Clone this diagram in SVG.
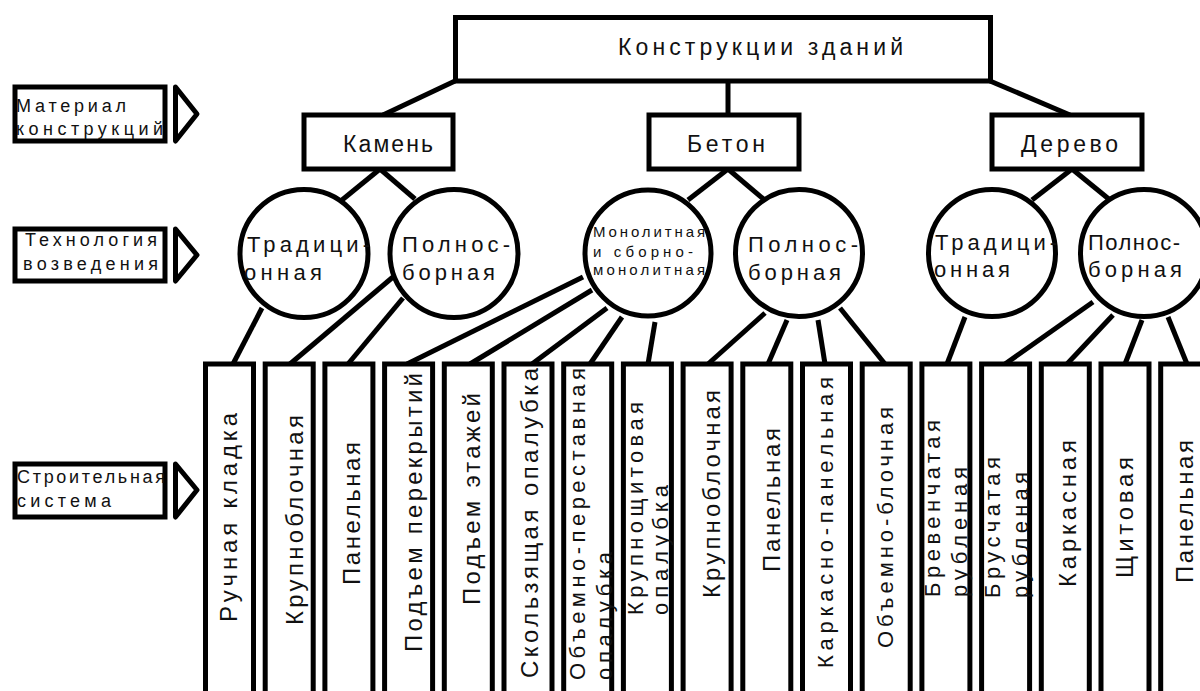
<svg xmlns="http://www.w3.org/2000/svg" width="1200" height="691" viewBox="0 0 1200 691">
<style>
.b{fill:#fff;stroke:#000;stroke-width:5}
.c{fill:#fff;stroke:#000;stroke-width:5}
.t{fill:none;stroke:#000;stroke-width:5;stroke-linejoin:round}
.ln{stroke:#000;stroke-width:5;fill:none}
text{font-family:"Liberation Sans","DejaVu Sans",sans-serif;fill:#111;lengthAdjust:spacing}
.f23{font-size:23px}
.f18{font-size:18px}
.f22{font-size:22px}
.f15{font-size:15px}
.f24{font-size:24px}
</style>
<rect width="1200" height="691" fill="#fff"/>
<g id="connectors">
<line class="ln" x1="455" y1="81" x2="383" y2="115"/>
<line class="ln" x1="728" y1="81" x2="728" y2="115"/>
<line class="ln" x1="990" y1="81" x2="1070" y2="115"/>
<line class="ln" x1="380" y1="169" x2="342" y2="200"/>
<line class="ln" x1="380" y1="169" x2="415" y2="199"/>
<line class="ln" x1="728" y1="169" x2="688" y2="200"/>
<line class="ln" x1="728" y1="169" x2="767" y2="202"/>
<line class="ln" x1="1072" y1="169" x2="1032" y2="200"/>
<line class="ln" x1="1072" y1="169" x2="1110" y2="200"/>
<line class="ln" x1="262" y1="308" x2="233" y2="364"/>
<line class="ln" x1="393" y1="277" x2="290" y2="364"/>
<line class="ln" x1="403" y1="298" x2="348" y2="364"/>
<line class="ln" x1="583" y1="277" x2="407" y2="364"/>
<line class="ln" x1="592" y1="290" x2="470" y2="364"/>
<line class="ln" x1="607" y1="308" x2="532" y2="364"/>
<line class="ln" x1="622" y1="317" x2="590" y2="364"/>
<line class="ln" x1="655" y1="322" x2="648" y2="364"/>
<line class="ln" x1="765" y1="313" x2="708" y2="364"/>
<line class="ln" x1="787" y1="320" x2="768" y2="364"/>
<line class="ln" x1="818" y1="320" x2="825" y2="364"/>
<line class="ln" x1="840" y1="308" x2="885" y2="364"/>
<line class="ln" x1="965" y1="317" x2="947" y2="364"/>
<line class="ln" x1="1093" y1="302" x2="1005" y2="364"/>
<line class="ln" x1="1113" y1="315" x2="1067" y2="364"/>
<line class="ln" x1="1142" y1="320" x2="1125" y2="364"/>
<line class="ln" x1="1168" y1="317" x2="1187" y2="364"/>
</g>
<g id="legend-material">
<rect class="b" x="15" y="87" width="150" height="54"/>
<polygon class="t" points="175.5,87 197,114 175.5,141"/>
<text class="f18" x="16" y="112" textLength="110" lengthAdjust="spacing">Материал</text>
<text class="f18" x="16" y="135" textLength="147" lengthAdjust="spacing">конструкций</text>
</g>
<g id="legend-tech">
<rect class="b" x="15" y="229" width="150" height="52"/>
<polygon class="t" points="175.5,229 197,255 175.5,281"/>
<text class="f18" x="25" y="246" textLength="132" lengthAdjust="spacing">Технология</text>
<text class="f18" x="23" y="270" textLength="135" lengthAdjust="spacing">возведения</text>
</g>
<g id="legend-system">
<rect class="b" x="15" y="464" width="150" height="53"/>
<polygon class="t" points="175.5,464 197,490 175.5,517"/>
<text class="f18" x="17" y="483" textLength="148" lengthAdjust="spacing">Строительная</text>
<text class="f18" x="17" y="507" textLength="94" lengthAdjust="spacing">система</text>
</g>
<g id="root">
<rect class="b" x="455.5" y="17.5" width="535" height="63.5"/>
<text class="f23" x="618" y="55" textLength="285" lengthAdjust="spacing">Конструкции зданий</text>
</g>
<g id="kamen">
<rect class="b" x="304" y="115" width="149" height="54"/>
<text class="f23" x="343" y="152" textLength="90" lengthAdjust="spacing">Камень</text>
</g>
<g id="beton">
<rect class="b" x="649" y="115" width="150" height="54"/>
<text class="f23" x="687" y="152" textLength="78" lengthAdjust="spacing">Бетон</text>
</g>
<g id="derevo">
<rect class="b" x="992" y="115" width="150" height="54"/>
<text class="f23" x="1021" y="152" textLength="97" lengthAdjust="spacing">Дерево</text>
</g>
<g id="kamen-trad">
<circle class="c" cx="304" cy="253.5" r="64"/>
<text class="f22" x="247" y="252" textLength="123" lengthAdjust="spacing">Традици-</text>
<text class="f22" x="244" y="280" textLength="78" lengthAdjust="spacing">онная</text>
</g>
<g id="kamen-poln">
<circle class="c" cx="454" cy="253.5" r="64"/>
<text class="f22" x="402" y="252" textLength="108" lengthAdjust="spacing">Полнос-</text>
<text class="f22" x="402" y="280" textLength="93" lengthAdjust="spacing">борная</text>
</g>
<g id="beton-mono">
<circle class="c" cx="648" cy="253" r="63"/>
<text class="f15" x="593" y="237" textLength="112" lengthAdjust="spacing">Монолитная</text>
<text class="f15" x="593" y="257" textLength="100" lengthAdjust="spacing">и сборно-</text>
<text class="f15" x="593" y="275" textLength="112" lengthAdjust="spacing">монолитная</text>
</g>
<g id="beton-poln">
<circle class="c" cx="799" cy="253" r="63.5"/>
<text class="f22" x="748" y="252" textLength="110" lengthAdjust="spacing">Полнос-</text>
<text class="f22" x="748" y="280" textLength="93" lengthAdjust="spacing">борная</text>
</g>
<g id="derevo-trad">
<circle class="c" cx="992" cy="253" r="63.5"/>
<text class="f22" x="935" y="250" textLength="122" lengthAdjust="spacing">Традици-</text>
<text class="f22" x="934" y="277" textLength="76" lengthAdjust="spacing">онная</text>
</g>
<g id="derevo-poln">
<circle class="c" cx="1144" cy="253" r="63.5"/>
<text class="f22" x="1088" y="250" textLength="92" lengthAdjust="spacing">Полнос-</text>
<text class="f22" x="1088" y="277" textLength="94" lengthAdjust="spacing">борная</text>
</g>
<g id="col1"><rect class="b" x="205.5" y="364" width="48" height="340"/>
<text class="f24" transform="translate(237,622) rotate(-90)" textLength="209" lengthAdjust="spacing">Ручная кладка</text></g>
<g id="col2"><rect class="b" x="265.2" y="364" width="48" height="340"/>
<text class="f24" transform="translate(303,625) rotate(-90)" textLength="210" lengthAdjust="spacing">Крупноблочная</text></g>
<g id="col3"><rect class="b" x="324.9" y="364" width="48" height="340"/>
<text class="f24" transform="translate(360,585) rotate(-90)" textLength="143" lengthAdjust="spacing">Панельная</text></g>
<g id="col4"><rect class="b" x="384.6" y="364" width="48" height="340"/>
<text class="f24" transform="translate(422,652) rotate(-90)" textLength="279" lengthAdjust="spacing">Подъем перекрытий</text></g>
<g id="col5"><rect class="b" x="444.3" y="364" width="48" height="340"/>
<text class="f24" transform="translate(480,605) rotate(-90)" textLength="212" lengthAdjust="spacing">Подъем этажей</text></g>
<g id="col6"><rect class="b" x="504" y="364" width="48" height="340"/>
<text class="f24" transform="translate(538,678) rotate(-90)" textLength="310" lengthAdjust="spacing">Скользящая опалубка</text></g>
<g id="col7"><rect class="b" x="563.7" y="364" width="48" height="340"/>
<text class="f22" transform="translate(585,680) rotate(-90)" textLength="312" lengthAdjust="spacing">Объемно-переставная</text>
<text class="f22" transform="translate(612,680) rotate(-90)" textLength="128" lengthAdjust="spacing">опалубка</text></g>
<g id="col8"><rect class="b" x="623.4" y="364" width="48" height="340"/>
<text class="f22" transform="translate(643,615) rotate(-90)" textLength="213" lengthAdjust="spacing">Крупнощитовая</text>
<text class="f22" transform="translate(668,615) rotate(-90)" textLength="130" lengthAdjust="spacing">опалубка</text></g>
<g id="col9"><rect class="b" x="683.1" y="364" width="48" height="340"/>
<text class="f24" transform="translate(720,598) rotate(-90)" textLength="208" lengthAdjust="spacing">Крупноблочная</text></g>
<g id="col10"><rect class="b" x="742.8" y="364" width="48" height="340"/>
<text class="f24" transform="translate(780,572) rotate(-90)" textLength="144" lengthAdjust="spacing">Панельная</text></g>
<g id="col11"><rect class="b" x="802.5" y="364" width="48" height="340"/>
<text class="f22" transform="translate(833,668) rotate(-90)" textLength="291" lengthAdjust="spacing">Каркасно-панельная</text></g>
<g id="col12"><rect class="b" x="862.2" y="364" width="48" height="340"/>
<text class="f22" transform="translate(893,648) rotate(-90)" textLength="241" lengthAdjust="spacing">Объемно-блочная</text></g>
<g id="col13"><rect class="b" x="921.9" y="364" width="48" height="340"/>
<text class="f22" transform="translate(940,597) rotate(-90)" textLength="177" lengthAdjust="spacing">Бревенчатая</text>
<text class="f22" transform="translate(967,597) rotate(-90)" textLength="130" lengthAdjust="spacing">рубленая</text></g>
<g id="col14"><rect class="b" x="981.6" y="364" width="48" height="340"/>
<text class="f22" transform="translate(1000,598) rotate(-90)" textLength="141" lengthAdjust="spacing">Брусчатая</text>
<text class="f22" transform="translate(1028,598) rotate(-90)" textLength="126" lengthAdjust="spacing">рубленая</text></g>
<g id="col15"><rect class="b" x="1041.3" y="364" width="48" height="340"/>
<text class="f24" transform="translate(1076,587) rotate(-90)" textLength="147" lengthAdjust="spacing">Каркасная</text></g>
<g id="col16"><rect class="b" x="1101" y="364" width="48" height="340"/>
<text class="f24" transform="translate(1133,578) rotate(-90)" textLength="121" lengthAdjust="spacing">Щитовая</text></g>
<g id="col17"><rect class="b" x="1160.7" y="364" width="48" height="340"/>
<text class="f24" transform="translate(1193,583) rotate(-90)" textLength="143" lengthAdjust="spacing">Панельная</text></g>
</svg>
